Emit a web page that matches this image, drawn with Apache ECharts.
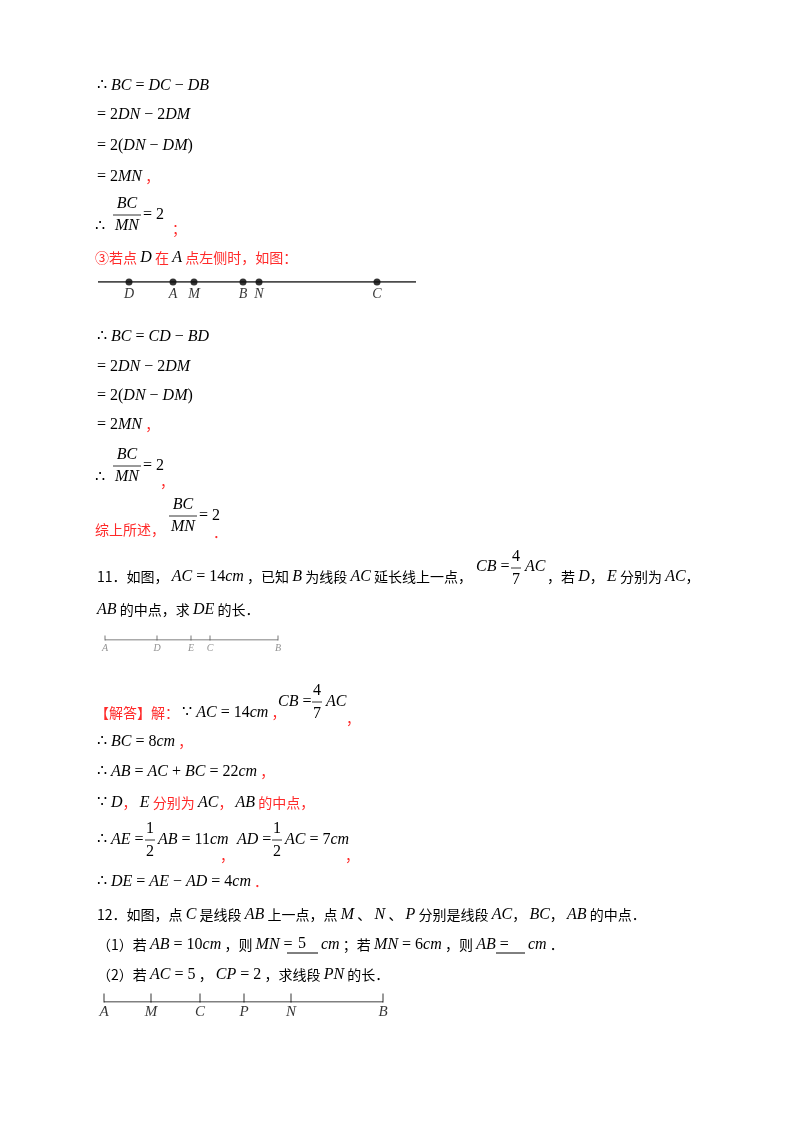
<!DOCTYPE html>
<html><head><meta charset="utf-8">
<script src="https://cdn.jsdelivr.net/npm/echarts@6/dist/echarts.min.js"></script>
<style>html,body{margin:0;padding:0;background:#fff}#c{width:800px;height:1132px}</style>
</head><body><div id="c"></div>
<script>
// Diagram data (positions along each segment, in px-like units)
var d1Names = ['D','A','M','B','N','C'];
var d1Pos = [31, 75, 96, 145, 161, 279];
var d2Names = ['A','D','E','C','B'];
var d2Pos = [0, 52, 86, 105, 173];
var d3Names = ['A','M','C','P','N','B'];
var d3Pos = [0, 47, 96, 140, 187, 279];

var RED = '#ff2a2a';
var rich = {
  mi:{fontFamily:'Liberation Serif',fontStyle:'italic',fontSize:16,fill:'#000'},
  mn:{fontFamily:'Liberation Serif',fontSize:16,fill:'#000'},
  c:{fontFamily:'Noto Sans CJK SC',fontSize:14,fill:'#000'},
  r:{fontFamily:'Noto Sans CJK SC',fontSize:14,fill:RED}
};
function seg(s){
  if(s.indexOf('r:')===0) return '{r|'+s.slice(2)+'}';
  if(s.indexOf('c:')===0) return '{c|'+s.slice(2)+'}';
  var str=s.slice(1), out='';
  var re=/([A-Za-z]+)|([^A-Za-z]+)/g, m;
  while((m=re.exec(str))){ out += m[1]?'{mi|'+m[1]+'}':'{mn|'+m[2]+'}'; }
  return out;
}
var G=[];
function T(x,y,segs,align){
  G.push({type:'text',x:x,y:y,style:{text:segs.map(seg).join(''),rich:rich,verticalAlign:'middle',align:align||'left'}});
}
function L(x1,y1,x2,y2,w){G.push({type:'line',shape:{x1:x1,y1:y1,x2:x2,y2:y2},style:{stroke:'#000',lineWidth:w||0.8}});}
function F(cx,y,num,den,w){
  T(cx,y-11,['$'+num],'center'); T(cx,y+11,['$'+den],'center'); L(cx-w/2,y,cx+w/2,y);
}
function fracSmall(cx,y,num,den){ T(cx,y-11,['$'+num],'center'); T(cx,y+12,['$'+den],'center'); L(cx-5,y,cx+5,y);}
var s='\u2009';

// block 1
T(97,86,['$∴ BC = DC − DB']);
T(97,115,['$= 2DN − 2DM']);
T(97,146,['$= 2(DN − DM)']);
T(97,177,['$= 2MN','r: ，']);
T(95,227,['$∴']); F(127,215,'BC','MN',28); T(143,215,['$= 2']); T(172,229,['r:；']);
T(95,258,['r:③若点','$'+s+'D'+s,'r:在','$'+s+'A'+s,'r:点左侧时，如图：']);
// block 2
T(97,337,['$∴ BC = CD − BD']);
T(97,367,['$= 2DN − 2DM']);
T(97,396,['$= 2(DN − DM)']);
T(97,425,['$= 2MN','r: ，']);
T(95,478,['$∴']); F(127,466,'BC','MN',28); T(143,466,['$= 2']); T(160,482,['r:，']);
T(95,530,['r:综上所述，']); F(183,516,'BC','MN',28); T(199,516,['$= 2']); T(213,533,['r:．']);
// problem 11
T(97,577,['c:11．如图，','$'+s+'AC = 14cm'+s,'c:，已知','$'+s+'B'+s,'c:为线段','$'+s+'AC'+s,'c:延长线上一点，']);
T(476,567,['$CB =']); fracSmall(516,568,'4','7'); T(525,567,['$AC']);
T(547,577,['c:，若','$'+s+'D','c:，','$'+s+'E'+s,'c:分别为','$'+s+'AC','c:，']);
T(97,610,['$AB'+s,'c:的中点，求','$'+s+'DE'+s,'c:的长．']);
// solution
T(95,713,['r:【解答】解：','$'+s+'∵ AC = 14cm'+s,'r:，']);
T(278,702,['$CB =']); fracSmall(317,702,'4','7'); T(326,702,['$AC']); T(346,719,['r:，']);
T(97,742,['$∴ BC = 8cm','r: ，']);
T(97,772,['$∴ AB = AC + BC = 22cm','r: ，']);
T(97,803,['$∵ D','r:，','$'+s+'E'+s,'r:分别为','$'+s+'AC','r:，','$'+s+'AB'+s,'r:的中点，']);
T(97,840,['$∴ AE =']); fracSmall(150,840,'1','2'); T(158,840,['$AB = 11cm']); T(220,856,['r:，']);
T(237,840,['$AD =']); fracSmall(277,840,'1','2'); T(285,840,['$AC = 7cm']); T(345,856,['r:，']);
T(97,882,['$∴ DE = AE − AD = 4cm','r: ．']);
// problem 12
T(97,915,['c:12．如图，点','$'+s+'C'+s,'c:是线段','$'+s+'AB'+s,'c:上一点，点','$'+s+'M'+s,'c:、','$'+s+'N'+s,'c:、','$'+s+'P'+s,'c:分别是线段','$'+s+'AC','c:，','$'+s+'BC','c:，','$'+s+'AB'+s,'c:的中点．']);
T(97,945,['c:（1）若','$'+s+'AB = 10cm'+s,'c:，则','$'+s+'MN =']);
L(287,953,318,953,1); T(302,944,['$5'],'center');
T(321,945,['$cm'+s,'c:；若','$'+s+'MN = 6cm'+s,'c:，则','$'+s+'AB =']);
L(496,953,525,953,1); T(528,945,['$cm'+s,'c:．']);
T(97,975,['c:（2）若','$'+s+'AC = 5'+s,'c:，','$'+s+'CP = 2'+s,'c:，求线段','$'+s+'PN'+s,'c:的长．']);

function mk(arr,names){return arr.map(function(p,i){return {value:[p,0],name:names[i]};});}
var option={
  animation:false,
  grid:[
    {left:98,width:318,top:272,height:10},
    {left:105,width:173,top:630,height:10},
    {left:104,width:279,top:992,height:10}
  ],
  xAxis:[
    {gridIndex:0,type:'value',min:0,max:318,show:false},
    {gridIndex:1,type:'value',min:0,max:173,show:false},
    {gridIndex:2,type:'value',min:0,max:279,show:false}
  ],
  yAxis:[0,1,2].map(function(i){return {gridIndex:i,type:'value',min:0,max:1,show:false};}),
  series:[
    {type:'line',xAxisIndex:0,yAxisIndex:0,data:[[0,0],[318,0]],symbol:'none',lineStyle:{color:'#111',width:1.6},silent:true},
    {type:'scatter',xAxisIndex:0,yAxisIndex:0,data:mk(d1Pos,d1Names),symbolSize:7,itemStyle:{color:'#000'},
      label:{show:true,position:'bottom',distance:2,formatter:'{b}',fontFamily:'Liberation Serif',fontStyle:'italic',fontSize:14,color:'#000'}},
    {type:'line',xAxisIndex:1,yAxisIndex:1,data:[[0,0],[173,0]],symbol:'none',lineStyle:{color:'#555',width:1},silent:true},
    {type:'scatter',xAxisIndex:1,yAxisIndex:1,data:mk(d2Pos,d2Names),symbol:'rect',symbolSize:[1,5],symbolOffset:[0,-2],itemStyle:{color:'#555'},
      label:{show:true,position:'bottom',distance:3,formatter:'{b}',fontFamily:'Liberation Serif',fontStyle:'italic',fontSize:10,color:'#777'}},
    {type:'line',xAxisIndex:2,yAxisIndex:2,data:[[0,0],[279,0]],symbol:'none',lineStyle:{color:'#000',width:1},silent:true},
    {type:'scatter',xAxisIndex:2,yAxisIndex:2,data:mk(d3Pos,d3Names),symbol:'rect',symbolSize:[1,9],symbolOffset:[0,-4],itemStyle:{color:'#000'},
      label:{show:true,position:'bottom',distance:2,formatter:'{b}',fontFamily:'Liberation Serif',fontStyle:'italic',fontSize:15,color:'#000'}}
  ],
  graphic:G
};
echarts.init(document.getElementById('c')).setOption(option);
</script></body></html>
